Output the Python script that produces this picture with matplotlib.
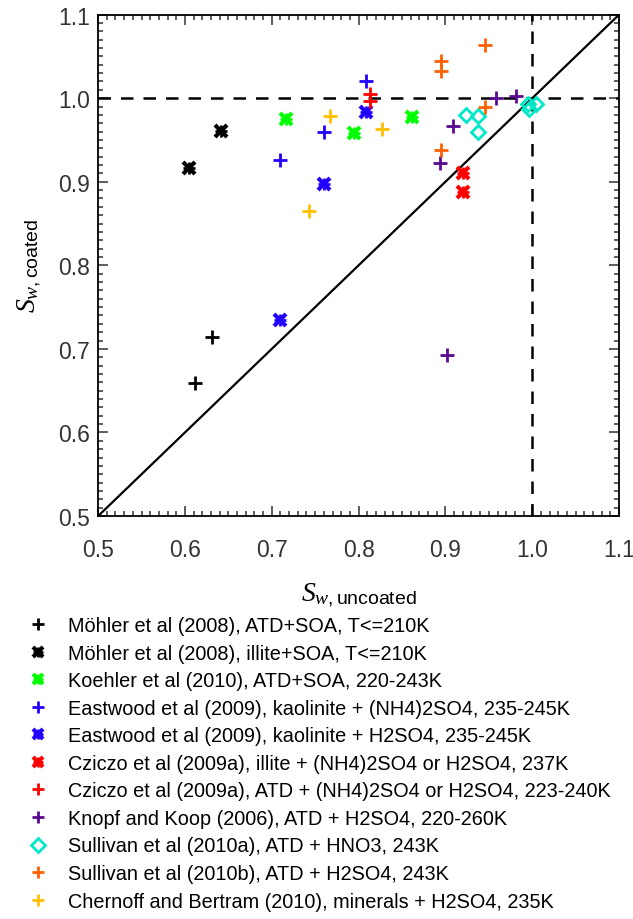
import matplotlib
matplotlib.use('agg')
import matplotlib.pyplot as plt
from matplotlib.ticker import MultipleLocator, FormatStrFormatter

plt.rcParams['font.family'] = ['Liberation Sans', 'DejaVu Sans']
plt.rcParams['mathtext.fontset'] = 'custom'
plt.rcParams['mathtext.it'] = 'Liberation Serif:italic'
plt.rcParams['mathtext.rm'] = 'Liberation Sans'

# series: (x = Sw uncoated, y = Sw coated)
mohler_atd_x = [0.612, 0.631]
mohler_atd_y = [0.659, 0.714]
mohler_illite_x = [0.605, 0.641]
mohler_illite_y = [0.917, 0.961]
koehler_x = [0.716, 0.795, 0.861]
koehler_y = [0.975, 0.958, 0.977]
eastwood_nh4_x = [0.709, 0.760, 0.809]
eastwood_nh4_y = [0.926, 0.960, 1.020]
eastwood_h2so4_x = [0.709, 0.760, 0.809]
eastwood_h2so4_y = [0.735, 0.897, 0.984]
cziczo_illite_x = [0.920, 0.920]
cziczo_illite_y = [0.910, 0.888]
cziczo_atd_x = [0.813, 0.813]
cziczo_atd_y = [1.005, 0.997]
knopf_x = [0.894, 0.902, 0.909, 0.958, 0.981]
knopf_y = [0.923, 0.693, 0.967, 1.000, 1.003]
sullivan_a_x = [0.924, 0.937, 0.937, 0.995, 1.004, 0.996]
sullivan_a_y = [0.980, 0.979, 0.959, 0.993, 0.993, 0.987]
sullivan_b_x = [0.895, 0.895, 0.895, 0.946, 0.946]
sullivan_b_y = [1.045, 1.033, 0.938, 1.064, 0.989]
chernoff_x = [0.743, 0.767, 0.827]
chernoff_y = [0.865, 0.979, 0.963]

labels = [
    'Möhler et al (2008), ATD+SOA, T<=210K',
    'Möhler et al (2008), illite+SOA, T<=210K',
    'Koehler et al (2010), ATD+SOA, 220-243K',
    'Eastwood et al (2009), kaolinite + (NH4)2SO4, 235-245K',
    'Eastwood et al (2009), kaolinite + H2SO4, 235-245K',
    'Cziczo et al (2009a), illite + (NH4)2SO4 or H2SO4, 237K',
    'Cziczo et al (2009a), ATD + (NH4)2SO4 or H2SO4, 223-240K',
    'Knopf and Koop (2006), ATD + H2SO4, 220-260K',
    'Sullivan et al (2010a), ATD + HNO3, 243K',
    'Sullivan et al (2010b), ATD + H2SO4, 243K',
    'Chernoff and Bertram (2010), minerals + H2SO4, 235K',
]

series = [
    (mohler_atd_x, mohler_atd_y, '#000000', 'plus'),
    (mohler_illite_x, mohler_illite_y, '#000000', 'star'),
    (koehler_x, koehler_y, '#00ff00', 'star'),
    (eastwood_nh4_x, eastwood_nh4_y, '#2200ff', 'plus'),
    (eastwood_h2so4_x, eastwood_h2so4_y, '#2200ff', 'star'),
    (cziczo_illite_x, cziczo_illite_y, '#ff0000', 'star'),
    (cziczo_atd_x, cziczo_atd_y, '#ff0000', 'plus'),
    (knopf_x, knopf_y, '#5a0a91', 'plus'),
    (sullivan_a_x, sullivan_a_y, '#00e8c8', 'diamond'),
    (sullivan_b_x, sullivan_b_y, '#ff6000', 'plus'),
    (chernoff_x, chernoff_y, '#ffc000', 'plus'),
]

fig = plt.figure(figsize=(6.33, 9.2), dpi=100)
ax = fig.add_axes([0.155, 0.438, 0.823, 0.545])

ax.plot([0.5, 1.1], [0.5, 1.1], color='black', lw=1.6)
ax.axhline(1.0, color='black', lw=1.8, dashes=(5, 4))
ax.axvline(1.0, color='black', lw=1.8, dashes=(5, 4))

handles = []
for x, y, c, m in series:
    if m == 'diamond':
        h, = ax.plot(x, y, ls='none', marker='D', ms=7.5, mfc='none', mec=c, mew=2)
    elif m == 'plus':
        h, = ax.plot(x, y, ls='none', marker='+', ms=10, mec=c, mew=2)
    else:
        # IDL-like asterisk: bold x with a + over it
        h1, = ax.plot(x, y, ls='none', marker='x', ms=8, mec=c, mew=3)
        h2, = ax.plot(x, y, ls='none', marker='+', ms=8, mec=c, mew=2)
        h = (h1, h2)
    handles.append(h)

ax.set_xlim(0.5, 1.1)
ax.set_ylim(0.5, 1.1)
for a in (ax.xaxis, ax.yaxis):
    a.set_major_locator(MultipleLocator(0.1))
    a.set_minor_locator(MultipleLocator(0.01))
    a.set_major_formatter(FormatStrFormatter('%.1f'))
ax.tick_params(which='both', direction='in', top=True, right=True, width=1.1, colors='#333333',
               labelcolor='#333333', labelsize=16.5)
ax.tick_params(which='major', length=7)
ax.tick_params(which='minor', length=3.5)
ax.tick_params(axis='x', pad=16)
ax.tick_params(axis='y', pad=6)
for s in ax.spines.values():
    s.set_linewidth(1.3)

ax.set_xlabel(r'$S_{w,\mathrm{uncoated}}$', fontsize=20, labelpad=14)
ax.set_ylabel(r'$S_{w,\mathrm{coated}}$', fontsize=20, labelpad=10)

fig.legend(handles=handles, labels=labels, loc='upper left', bbox_to_anchor=(0.032, 0.34),
           frameon=False, fontsize=14.3, handlelength=0.8, handletextpad=1.1,
           labelspacing=0.43, borderpad=0, markerscale=0.9)

fig.savefig('out.png', dpi=100)
